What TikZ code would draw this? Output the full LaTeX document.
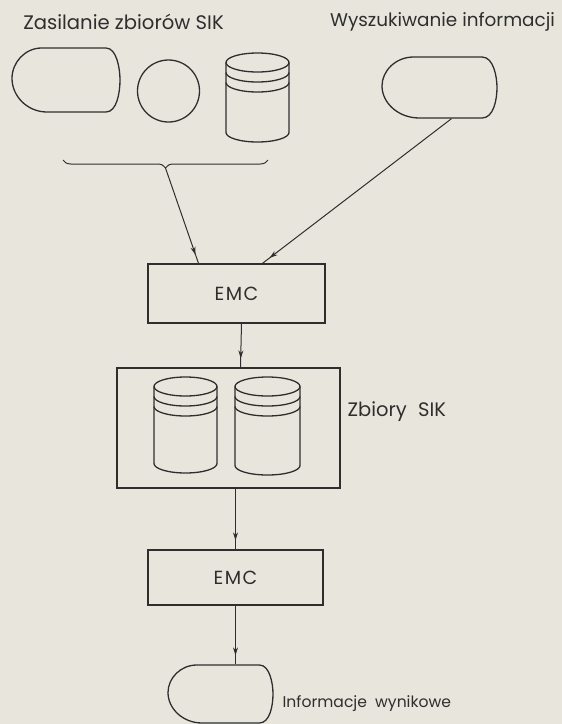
\documentclass[tikz,border=0pt]{standalone}
\usepackage{fontspec}
\setmainfont{Poppins}
\usetikzlibrary{arrows.meta, decorations.markings, decorations.pathreplacing, calc}
\definecolor{paper}{HTML}{E8E6DC}
\definecolor{ink}{HTML}{2E2E2E}

% terminal-like outline round a node: #1 node, #2 half width, #3 half height
\newcommand{\termoutline}[3]{%
  \begin{scope}[shift={(#1.center)}, xscale=#2, yscale=#3]
    \draw (-0.45,1) -- (0.74,1) .. controls (0.94,1) and (1,0.35) .. (1,0)
      .. controls (1,-0.4) and (0.94,-1) .. (0.74,-1) -- (-0.35,-1)
      .. controls (-0.72,-1) and (-1,-0.5) .. (-1,0.05)
      .. controls (-1,0.55) and (-0.76,1) .. (-0.45,1) -- cycle;
  \end{scope}}
% drum outline round a node: #1 node, #2 half width, #3 half height
\newcommand{\drumoutline}[3]{%
  \begin{scope}[shift={(#1.center)}]
    \draw (0,{#3-9.5}) ellipse [x radius=#2, y radius=9.5];
    \draw ({-#2},{#3-9.5}) -- ({-#2},{-#3+9.5})
      arc [start angle=180, end angle=360, x radius=#2, y radius=9.5] -- (#2,{#3-9.5});
    \foreach \dy in {10,20}
      \draw ({-#2},{#3-9.5-\dy}) arc [start angle=180, end angle=360, x radius=#2, y radius=9.5];
  \end{scope}}

\begin{document}
\begin{tikzpicture}[x=1pt, y=1pt, line width=1.3pt, draw=ink,
  txt/.style={inner sep=0pt, text=ink, font=\fontsize{#1}{20}\selectfont},
  txt/.default=19,
  hold/.style={inner sep=0pt},
  box/.style={draw, rectangle, inner sep=0pt, text=ink, font=\fontsize{19}{22}\selectfont},
  flow/.style={draw, line width=1pt, decoration={markings,
    mark=at position -9pt with {\arrow{Stealth[length=8pt, width=5pt]}}}, postaction={decorate}},
  bracket/.style={draw, line width=1pt, decorate, decoration={brace, mirror, amplitude=8pt}}]
\path[fill=paper, use as bounding box] (0,0) rectangle (562,-724);

% --- input side ---
\node[txt=19.6] (feedtxt) at (123.5,-22) {Zasilanie zbiorów SIK};
\node[txt=18.4] (searchtxt) at (442.5,-22) {Wyszukiwanie informacji};
\node[hold, minimum width=108, minimum height=64] (feedterm) at (66,-80) {};
\node[hold, draw, circle, minimum size=62] (feedcard) at (168.5,-91) {};
\node[hold, minimum width=63, minimum height=89] (feeddb) at (257.5,-97.5) {};
\node[hold, minimum width=115, minimum height=61] (searchterm) at (439.5,-87.5) {};
\termoutline{feedterm}{54}{32}
\drumoutline{feeddb}{31.5}{44.5}
\termoutline{searchterm}{57.5}{30.5}

% brace under the feed devices
\coordinate (braceL) at (63,-160);
\coordinate (braceR) at (268,-160);
\coordinate (feedtip) at (165.5,-168);
\draw[bracket] (braceL) -- (braceR);

% --- processing ---
\node[box, minimum width=177, minimum height=59] (emcA) at (236.5,-293.5) {E\kern1.5ptM\kern1.5ptC};
\node[box, minimum width=223, minimum height=120] (sets) at (228.5,-428) {};
\node[hold, minimum width=63, minimum height=96] (setA) at (185.5,-425) {};
\node[hold, minimum width=65, minimum height=98] (setB) at (267.5,-426) {};
\drumoutline{setA}{31.5}{48}
\drumoutline{setB}{32.5}{49}
\node[txt=19.5, anchor=west] (setstxt) at (347,-412) {Zbiory\hspace{6pt} SIK};
\node[box, minimum width=175, minimum height=55] (emcB) at (235.5,-577.5) {E\kern1.5ptM\kern1.5ptC};

% --- output ---
\node[hold, minimum width=105, minimum height=58] (outterm) at (220.5,-694) {};
\termoutline{outterm}{52.5}{29}
\node[txt=15.6, anchor=west] (outtxt) at (282,-704) {Informacje\hspace{4pt} wynikowe};

% connectors
\draw[flow] (feedtip) -- ($(emcA.north)+(-38,0)$);
\draw[flow] ($(searchterm.south)+(12,0)$) -- ($(emcA.north)+(26,0)$);
\draw[flow] ($(emcA.south)+(5,0)$) -- ($(sets.north)+(12,0)$);
\draw[flow] (sets.south -| emcB.north) -- (emcB.north);
\draw[flow] (emcB.south) -- (emcB.south |- outterm.north);
\end{tikzpicture}
\end{document}
